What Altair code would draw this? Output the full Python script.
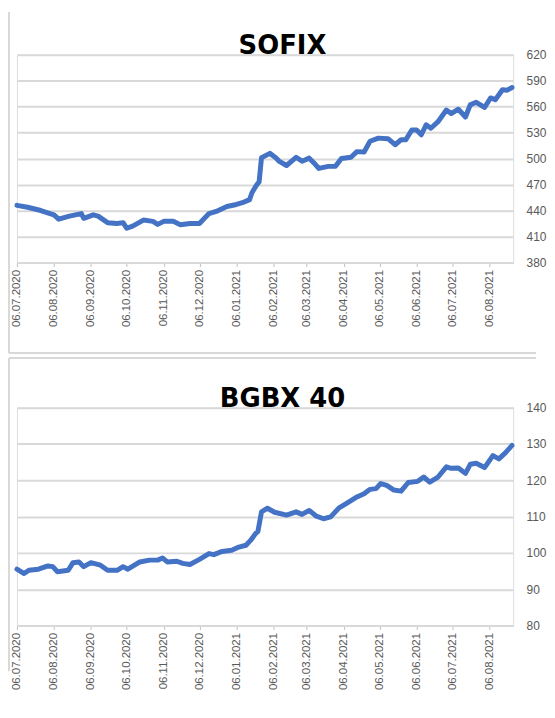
import altair as alt
import pandas as pd

# ---------------- data ----------------
sofix_dates = ["2020-07-06", "2020-07-15", "2020-07-26", "2020-08-06", "2020-08-10", "2020-08-19",
               "2020-08-29", "2020-08-31", "2020-09-08", "2020-09-12", "2020-09-20", "2020-09-28",
               "2020-10-03", "2020-10-06", "2020-10-11", "2020-10-20", "2020-10-28", "2020-11-01",
               "2020-11-06", "2020-11-14", "2020-11-20", "2020-11-28", "2020-12-06", "2020-12-14",
               "2020-12-20", "2020-12-29", "2021-01-06", "2021-01-11", "2021-01-17", "2021-01-19",
               "2021-01-23", "2021-01-25", "2021-01-27", "2021-02-01", "2021-02-03", "2021-02-08",
               "2021-02-11", "2021-02-17", "2021-02-25", "2021-03-02", "2021-03-08", "2021-03-12",
               "2021-03-16", "2021-03-24", "2021-03-30", "2021-04-04", "2021-04-12", "2021-04-17",
               "2021-04-23", "2021-04-28", "2021-05-05", "2021-05-13", "2021-05-19", "2021-05-24",
               "2021-05-28", "2021-06-02", "2021-06-06", "2021-06-10", "2021-06-14", "2021-06-18",
               "2021-06-24", "2021-07-01", "2021-07-05", "2021-07-11", "2021-07-17", "2021-07-21",
               "2021-07-26", "2021-08-02", "2021-08-07", "2021-08-11", "2021-08-17", "2021-08-21",
               "2021-08-25"]
sofix_values = [446, 443.8, 440, 435, 430, 433.5, 436.5, 431, 435, 433.5, 426, 425,
                426, 419.5, 422, 429, 427.5, 424, 427.5, 427.5, 423.5, 425, 425, 436.5,
                439, 444.6, 447, 449, 452.6, 460.6, 469.7, 473, 501, 504.6, 506, 501,
                496.7, 492, 501.5, 497, 500.5, 495, 488.6, 491, 491, 500, 501.5, 508,
                507.6, 520, 523.6, 523, 516, 521.7, 521.7, 533, 533, 527.5, 539, 535,
                542.6, 556, 552, 557, 548, 562, 565, 559, 570, 568, 579.5, 579, 582]

bgbx_dates = ["2020-07-06", "2020-07-12", "2020-07-16", "2020-07-24", "2020-08-01", "2020-08-05",
              "2020-08-09", "2020-08-18", "2020-08-22", "2020-08-27", "2020-08-31", "2020-09-06",
              "2020-09-14", "2020-09-20", "2020-09-28", "2020-10-03", "2020-10-07", "2020-10-17",
              "2020-10-25", "2020-11-01", "2020-11-05", "2020-11-09", "2020-11-17", "2020-11-22",
              "2020-11-28", "2020-12-06", "2020-12-14", "2020-12-18", "2020-12-25", "2021-01-02",
              "2021-01-08", "2021-01-14", "2021-01-18", "2021-01-22", "2021-01-24", "2021-01-27",
              "2021-02-01", "2021-02-07", "2021-02-17", "2021-02-25", "2021-03-02", "2021-03-08",
              "2021-03-14", "2021-03-20", "2021-03-26", "2021-04-02", "2021-04-08", "2021-04-17",
              "2021-04-23", "2021-04-28", "2021-05-03", "2021-05-07", "2021-05-12", "2021-05-18",
              "2021-05-24", "2021-05-30", "2021-06-07", "2021-06-12", "2021-06-17", "2021-06-24",
              "2021-07-01", "2021-07-05", "2021-07-11", "2021-07-17", "2021-07-21", "2021-07-26",
              "2021-08-02", "2021-08-09", "2021-08-14", "2021-08-19", "2021-08-25"]
bgbx_values = [95.5, 94.3, 95.2, 95.5, 96.4, 96.2, 94.8, 95.2, 97.3, 97.5, 96.2, 97.3,
               96.6, 95.2, 95.2, 96.2, 95.5, 97.5, 98, 98, 98.6, 97.5, 97.7, 97.1,
               96.8, 98.2, 99.8, 99.5, 100.4, 100.7, 101.6, 102.1, 103.5, 105.3, 105.9, 111.3,
               112.3, 111.2, 110.4, 111.3, 110.6, 111.7, 110.1, 109.4, 109.9, 112.4, 113.6, 115.4,
               116.3, 117.5, 117.7, 119.1, 118.6, 117.3, 117, 119.4, 119.7, 120.9, 119.5, 120.9,
               123.7, 123.3, 123.4, 121.9, 124.4, 124.7, 123.5, 126.8, 125.9, 127.4, 129.6]

tick_dates = ["2020-07-06", "2020-08-06", "2020-09-06", "2020-10-06", "2020-11-06", "2020-12-06",
              "2021-01-06", "2021-02-06", "2021-03-06", "2021-04-06", "2021-05-06", "2021-06-06",
              "2021-07-06", "2021-08-06"]
x_domain = ["2020-07-06", "2021-08-26"]
sofix_ticks = [380, 410, 440, 470, 500, 530, 560, 590, 620]
bgbx_ticks = [80, 90, 100, 110, 120, 130, 140]

# ---------------- style ----------------
LINE = "#4472C4"
GRID = "#d9d9d9"
TEXT = "#595959"
FRAME = "#d9d9d9"
LABEL_FONT = "Liberation Sans"
TITLE_FONT = "DejaVu Sans"
PLOT_W = 499


def dt(s):
    y, m, d = (int(v) for v in s.split("-"))
    return alt.DateTime(year=y, month=m, date=d, utc=True)


def one_row():
    return alt.Chart(pd.DataFrame({"k": [0]}))


def panel(title, dates, values, ticks, height, frame_top, frame_bottom,
          top_line=False, bottom_line=False):
    df = pd.DataFrame({"date": dates, "value": values})
    x = alt.X(
        "date:T",
        scale=alt.Scale(type="utc", domain=[dt(s) for s in x_domain]),
        axis=alt.Axis(
            values=[dt(s) for s in tick_dates],
            labelExpr="utcFormat(datum.value, '%d.%m.%Y')",
            labelAngle=270, labelFont=LABEL_FONT, labelFontSize=11.5, labelColor=TEXT,
            labelPadding=3, labelOverlap=False, labelFlush=False, tickSize=4,
            tickColor="#bfbfbf", tickWidth=1, domainColor=GRID, domainWidth=2,
            grid=False, title=None,
        ),
    )
    y = alt.Y(
        "value:Q",
        scale=alt.Scale(domain=[ticks[0], ticks[-1]], nice=False, zero=False),
        axis=alt.Axis(
            orient="right", values=ticks, labelFont=LABEL_FONT, labelFontSize=12,
            labelColor=TEXT, labelPadding=13, ticks=False, domain=False,
            grid=True, gridColor=GRID, gridWidth=2, title=None,
        ),
    )
    line = alt.Chart(df).mark_line(
        color=LINE, strokeWidth=5, strokeCap="round", strokeJoin="round"
    ).encode(x=x, y=y)

    layers = []
    left = one_row().mark_rule(color=FRAME, strokeWidth=2).encode(
        x=alt.value(-8), y=alt.value(frame_top), y2=alt.value(frame_bottom))
    layers.append(left)
    if top_line:
        top = one_row().mark_rule(color=FRAME, strokeWidth=2).encode(
            x=alt.value(-8), x2=alt.value(522), y=alt.value(frame_top))
        layers.append(top)
    if bottom_line:
        bot = one_row().mark_rule(color=FRAME, strokeWidth=2).encode(
            x=alt.value(-8), x2=alt.value(522), y=alt.value(frame_bottom))
        layers.append(bot)
    head = one_row().mark_text(
        text=title, font=TITLE_FONT, fontSize=26, fontWeight="bold", color="#000000",
        align="center", baseline="alphabetic",
    ).encode(x=alt.value(267), y=alt.value(-1))
    layers.append(head)
    layers.append(line)

    return alt.layer(*layers).properties(width=PLOT_W, height=height)


top_panel = panel("SOFIX", sofix_dates, sofix_values, sofix_ticks, 209,
                  frame_top=-43, frame_bottom=300, bottom_line=True)
bottom_panel = panel("BGBX 40", bgbx_dates, bgbx_values, bgbx_ticks, 219,
                     frame_top=-50, frame_bottom=265, top_line=True)

chart = alt.vconcat(top_panel, bottom_panel, spacing=1).properties(
    padding={"left": -1, "top": 0, "right": 0, "bottom": 0}
).configure_view(strokeWidth=0).configure(background="white")

chart.save("out.html", embed_options={"renderer": "svg", "actions": False})
